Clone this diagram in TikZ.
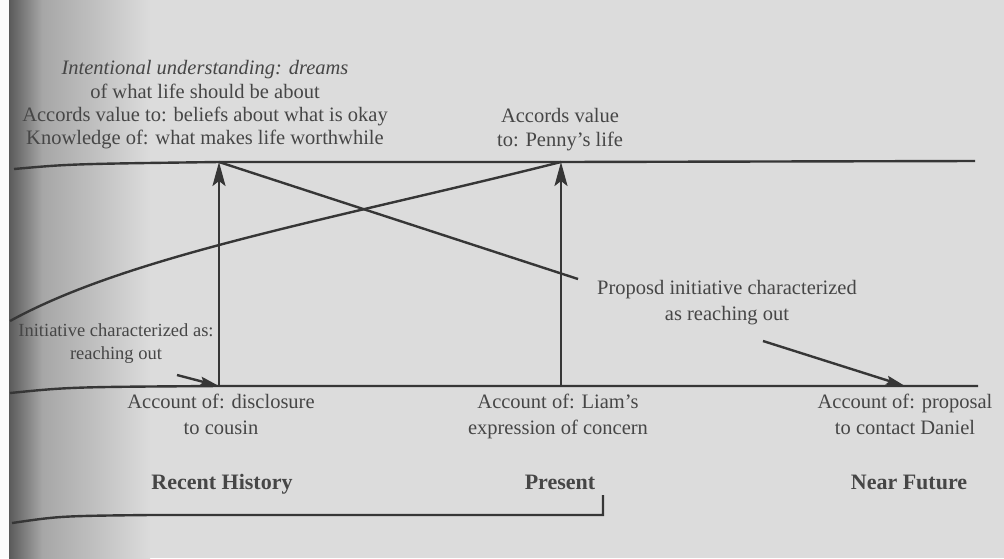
\documentclass[tikz,border=0pt]{standalone}
\usepackage{fontspec}
\setmainfont{Liberation Serif}
\usetikzlibrary{arrows.meta}

\definecolor{paper}{HTML}{DCDCDC}
\definecolor{ink}{HTML}{363636}
\definecolor{print}{HTML}{464646}
\definecolor{gutter}{HTML}{5A5A5A}
\definecolor{guttermid}{HTML}{A6A6A6}

\begin{document}
\begin{tikzpicture}[x=1pt,y=-1pt,
  rule/.style={draw=ink, line width=2.4pt},
  upar/.style={rule, -{Stealth[length=24pt,width=13pt,inset=5pt]}},
  smallar/.style={rule, -{Stealth[length=19pt,width=9pt,inset=3pt]}},
  lbl/.style={text=print, inner sep=0pt, align=center},
  txtA/.style={lbl, font=\fontsize{20.5}{23.3}\selectfont},
  txtB/.style={lbl, font=\fontsize{20.5}{26.5}\selectfont},
  period/.style={lbl, font=\fontsize{22}{26}\selectfont\bfseries, anchor=base}
]
% page and gutter shadow
\useasboundingbox (0,0) rectangle (1004,558);
\fill[paper] (0,0) rectangle (1004,558);
\fill[white!92!paper] (0,0) rectangle (9,558);
\shade[left color=gutter, right color=guttermid] (9,0) rectangle (42,558);
\shade[left color=guttermid, right color=paper] (42,0) rectangle (150,558);

% timeline anchor points
\coordinate (topL) at (14,169);
\coordinate (topR) at (975,161);
\coordinate (histTop) at (219,162);
\coordinate (presTop) at (561,162);
\coordinate (botL) at (10,393);
\coordinate (botR) at (978,386);
\coordinate (histBot) at (219,386);
\coordinate (presBot) at (561,386);
\coordinate (futBot) at (905,386);
\coordinate (crossEnd) at (578,279);
\coordinate (curveEnd) at (10,321);
\coordinate (initTail) at (177,375);
\coordinate (propTail) at (763,341);
\coordinate (brL) at (12,523);
\coordinate (brCorner) at (603,515);
\coordinate (brTop) at (603,495);

% labels
\node[txtA, anchor=north] (intent) at (205,60.5)
  {\textit{Intentional understanding: dreams}\\of what life should be about\\Accords value to: beliefs about what is okay\\Knowledge of: what makes life worthwhile};
\node[txtA, anchor=north] (penny) at (560,108.5) {Accords value\\to: Penny's life};
\node[lbl, font=\fontsize{20.5}{26}\selectfont, anchor=north] (proposd) at (727,280.5)
  {Proposd initiative characterized\\as reaching out};
\node[lbl, font=\fontsize{18.5}{23.5}\selectfont, anchor=north] (initiative) at (116,323)
  {Initiative characterized as:\\reaching out};
\node[txtB, anchor=north] (disclosure) at (221,393.5) {Account of: disclosure\\to cousin};
\node[txtB, anchor=north] (concern) at (558,393.5) {Account of: Liam's\\expression of concern};
\node[txtB, anchor=north] (proposal) at (905,393.5) {Account of: proposal\\to contact Daniel};
\node[period] (recent) at (222,489) {Recent History};
\node[period] (present) at (560,489) {Present};
\node[period] (future) at (909,489) {Near Future};

% the two time lines
\draw[rule] (topL) .. controls (70,164) .. (histTop) -- (presTop) -- (topR);
\draw[rule] (botL) .. controls (70,387) .. (histBot) -- (presBot) -- (futBot) -- (botR);

% vertical links and crossing lines
\draw[upar] (histBot) -- (histTop);
\draw[upar] (presBot) -- (presTop);
\draw[rule] (histTop) -- (crossEnd);
\draw[rule] (presTop) .. controls (330,220) and (130,255) .. (curveEnd);

% small pointers
\draw[smallar] (initTail) -- (histBot);
\draw[smallar] (propTail) -- (futBot);

% bracket under the periods
\draw[rule] (brL) .. controls (60,516) .. (150,515) -- (brCorner) -- (brTop);
\end{tikzpicture}
\end{document}
